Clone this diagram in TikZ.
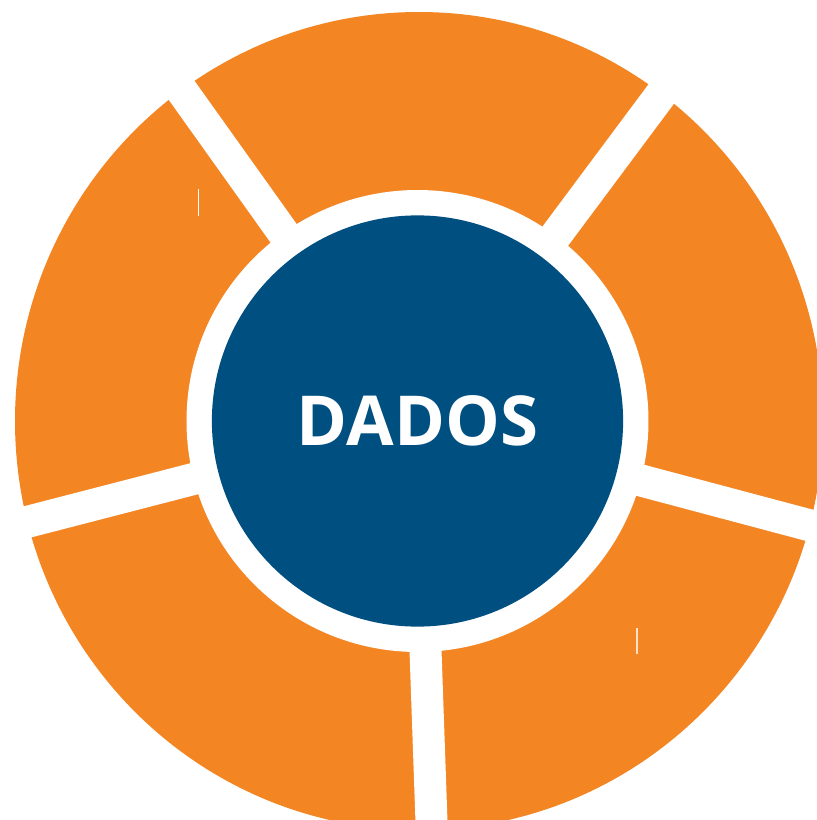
\documentclass[tikz,border=0pt]{standalone}
\usepackage{fontspec}
\setsansfont{Open Sans}
\definecolor{ringorange}{RGB}{243,133,35}
\definecolor{dadosblue}{RGB}{0,79,129}

\begin{document}
\begin{tikzpicture}[x=0.01cm,y=0.01cm]
 \useasboundingbox (0,0) rectangle (817,820);
 \clip (0,0) rectangle (817,820);
 \coordinate (c) at (417.5,399);

 % outer ring, five parts
 \fill[ringorange] (419,399) ellipse [x radius=404, y radius=409];
 \fill[white] (c) circle [radius=231];
 \foreach \a in {125.5,53.3,-14.9,-88,194.5}
   \draw[white, line width=0.32cm] (c) -- +(\a:480);

 \node[circle, fill=dadosblue, inner sep=0pt, minimum size=4.11cm, text=white,
   font=\sffamily\bfseries\fontsize{19.6}{19.6}\selectfont] (dados) at (c) {DADOS};

 \draw[white, line width=0.3pt] (198.3,604.3) -- (198.3,631);
 \draw[white!75!ringorange, line width=0.6pt] (636.7,165.7) -- (636.7,192.3);
\end{tikzpicture}
\end{document}
